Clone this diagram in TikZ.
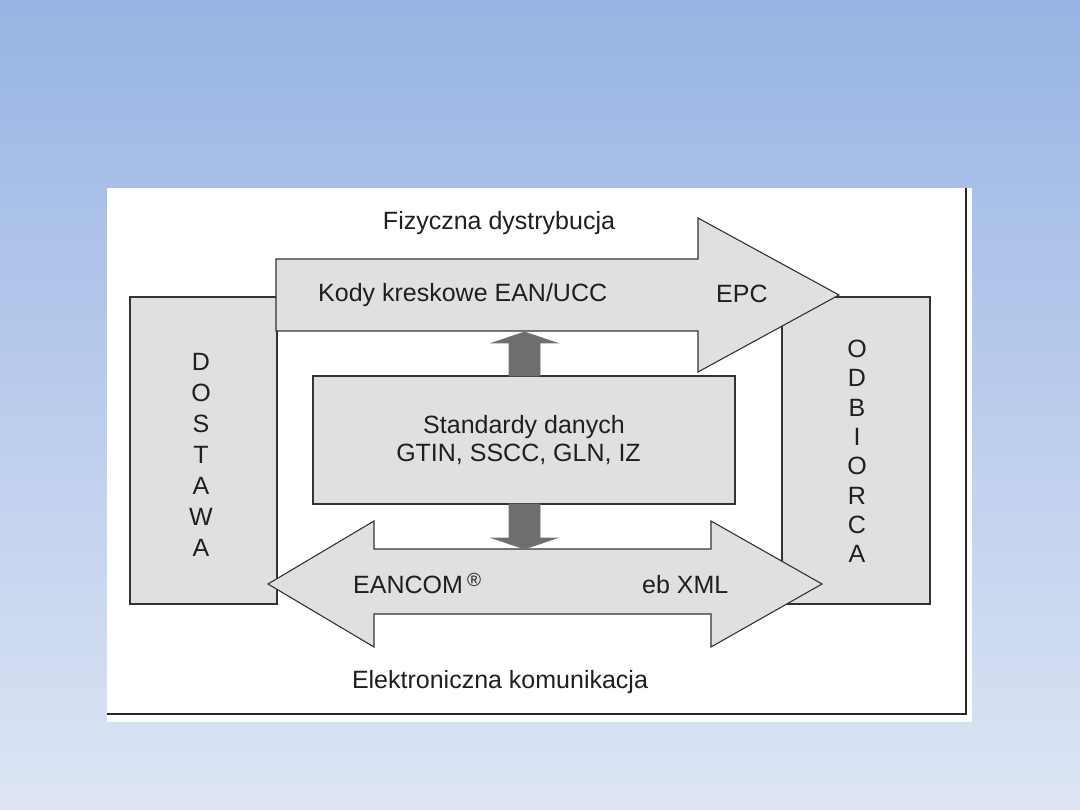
\documentclass[tikz,border=0pt]{standalone}
\usepackage{fontspec}
\setmainfont{Liberation Sans}
\begin{document}
\begin{tikzpicture}[x=1pt,y=-1pt,
  lbl/.style={inner sep=0pt, text=black!88, font=\fontsize{25}{30}\selectfont},
  vlbl/.style={lbl, align=center, font=\fontsize{25}{31}\selectfont},
  graybox/.style={draw=black!80, line width=1.1pt, fill=black!12, inner sep=0pt},
  bigarrow/.style={draw=black!80, line width=1.1pt, fill=black!12, line join=miter},
  darkarrow/.style={draw=black!55, line width=0.8pt, fill=black!57}]
\useasboundingbox (0,0) rectangle (1080,810);
% background
\shade[top color={rgb,255:red,152;green,180;blue,228}, bottom color={rgb,255:red,221;green,229;blue,245}] (0,0) rectangle (1080,810);
% panel
\fill[white] (107,188) rectangle (972,722);
\draw[line width=2pt, black!85] (107,714) -- (966,714) -- (966,188);
% side boxes
\node[graybox, minimum width=147pt, minimum height=307pt] (dost) at (203.5,450.5) {};
\node[graybox, minimum width=148pt, minimum height=307pt] (odb) at (856,450.5) {};
% top arrow
\draw[bigarrow] (276,259) -- (698,259) -- (698,218) -- (839,295) -- (698,372) -- (698,331) -- (276,331) -- cycle;
% bottom double arrow
\draw[bigarrow] (268,584) -- (374,521) -- (374,549) -- (711,549) -- (711,521) -- (822,584) -- (711,647) -- (711,614) -- (374,614) -- (374,647) -- cycle;
% central box
\node[graybox, minimum width=422pt, minimum height=128pt] (std) at (524,440) {};
\coordinate (topArr) at (524.5,332);
\coordinate (botArr) at (524.5,549);
% dark arrows
\draw[darkarrow] (509,376) -- (509,343) -- (492,343) -- (topArr) -- (557,343) -- (540,343) -- (540,376) -- cycle;
\draw[darkarrow] (509,504) -- (509,538) -- (492,538) -- (botArr) -- (557,538) -- (540,538) -- (540,504) -- cycle;
% texts
\node[lbl, anchor=base] (fiz) at (499,230) {Fizyczna dystrybucja};
\node[lbl, anchor=base west] (kody) at (318,302) {Kody kreskowe EAN/UCC};
\node[lbl, anchor=base west] (epc) at (716,303) {EPC};
\node[lbl, anchor=base] (s1) at (524,434) {Standardy danych};
\node[lbl, anchor=base] (s2) at (518.5,462) {GTIN, SSCC, GLN, IZ};
\node[lbl, anchor=base west] (ean) at (353,593) {EANCOM\,\raisebox{7pt}{\fontsize{19}{20}\selectfont ®}};
\node[lbl, anchor=base west] (xml) at (642,593) {eb XML};
\node[lbl, anchor=base] (ele) at (500,688) {Elektroniczna komunikacja};
\node[vlbl] (dl) at (201,454.5) {D\\O\\S\\T\\A\\W\\A};
\node[vlbl, font=\fontsize{25}{29.3}\selectfont] (ol) at (857,451.5) {O\\D\\B\\I\\O\\R\\C\\A};
\end{tikzpicture}
\end{document}
